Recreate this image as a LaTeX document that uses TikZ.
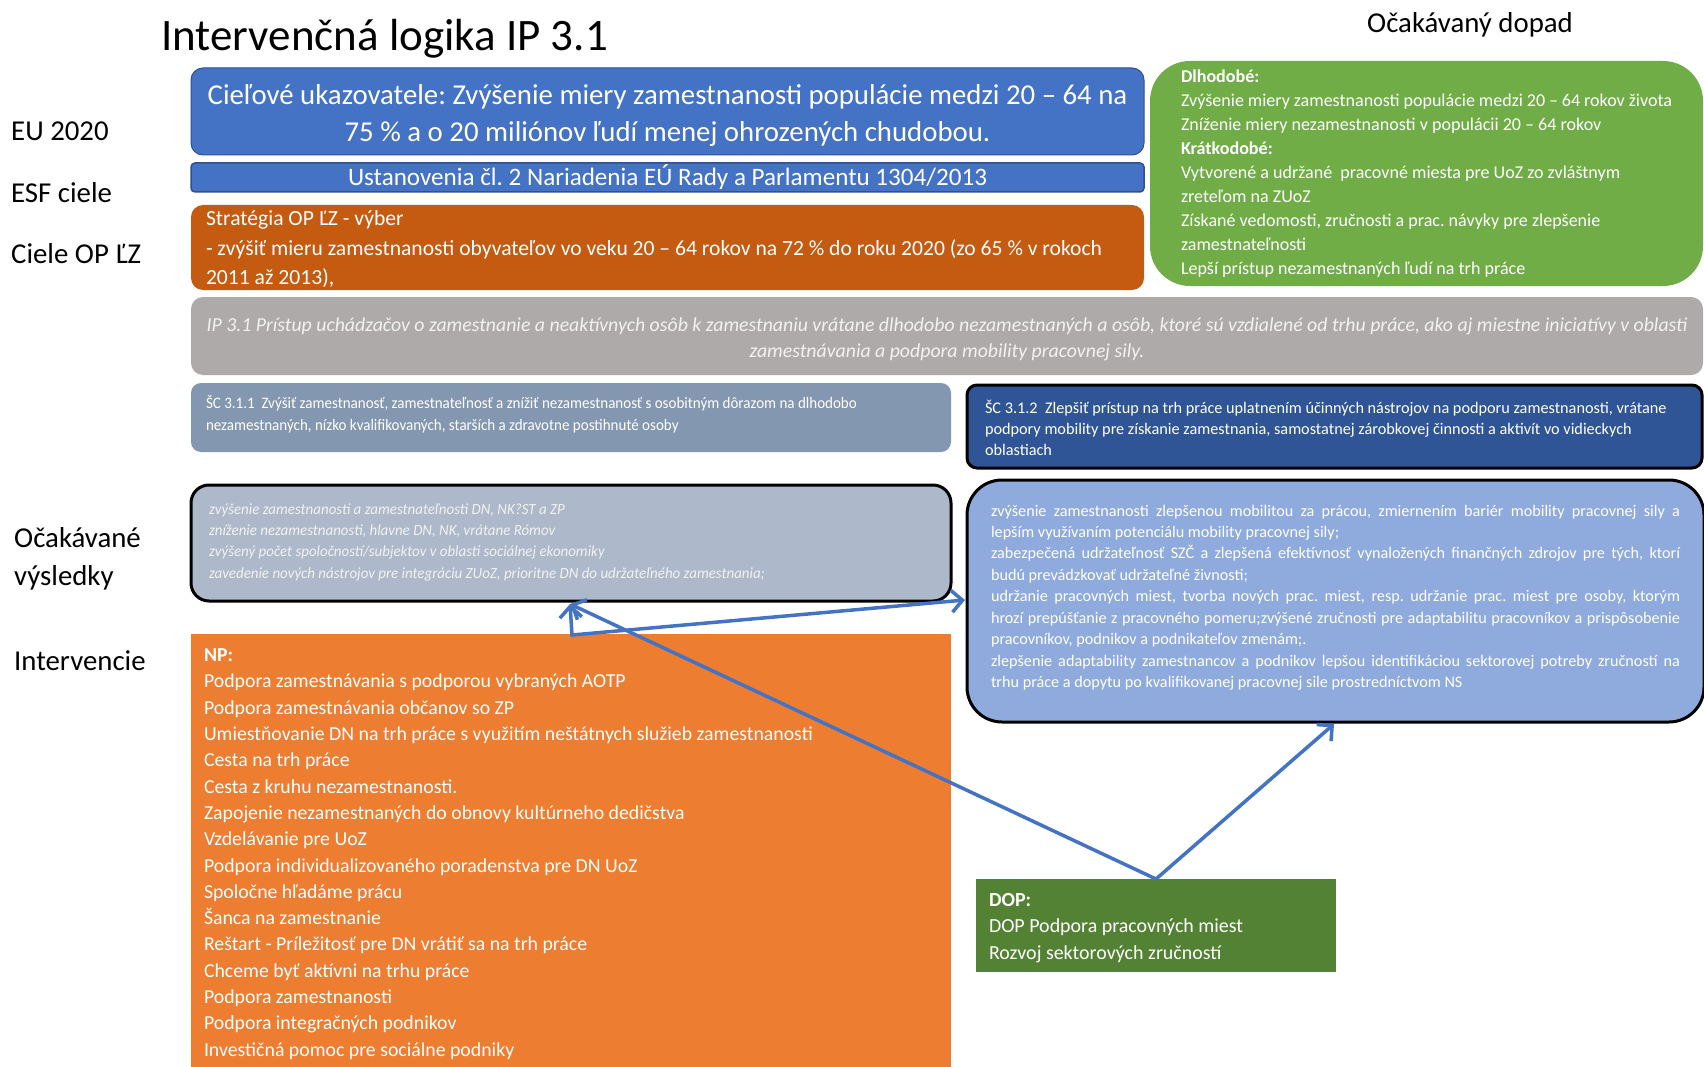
\documentclass[tikz,border=0pt]{standalone}
\usepackage{fontspec}
\setmainfont{Carlito}
\usetikzlibrary{arrows.meta}
\definecolor{cblue}{HTML}{4472C4}
\definecolor{cblueb}{HTML}{2F528F}
\definecolor{cstrat}{HTML}{C55A11}
\definecolor{cgreen}{HTML}{70AD47}
\definecolor{cgray}{HTML}{AEAAAA}
\definecolor{csca}{HTML}{8497B0}
\definecolor{cscb}{HTML}{2F5597}
\definecolor{cresa}{HTML}{ADB9CA}
\definecolor{cresb}{HTML}{8FAADC}
\definecolor{cnp}{HTML}{ED7D31}
\definecolor{cdop}{HTML}{548235}
\definecolor{ctxt}{HTML}{F2F2F2}
\definecolor{carrow}{HTML}{4472C4}
\tikzset{
  blk/.style={anchor=north west, inner ysep=0pt, outer sep=0pt, text=white},
  lab/.style={anchor=base west, inner sep=0pt, font=\fontsize{28.8}{34}\selectfont},
  tipb/.tip={Straight Barb[length=11pt,width=22pt,line width=3.5pt]},
  arr/.style={draw=carrow, line width=3.5pt, -tipb},
  arrboth/.style={draw=carrow, line width=3.5pt, tipb-tipb}
}
\frenchspacing
\begin{document}
\begin{tikzpicture}[x=1pt,y=-1pt]
\useasboundingbox (0,0) rectangle (1704,1067);
\fill[white] (0,0) rectangle (1704,1067);

% title and headers
\node[anchor=base west, inner sep=0pt, font=\fontsize{45}{50}\selectfont] (title) at (161,51) {Intervenčná logika IP 3.1};
\node[lab] (dopad) at (1367,33) {Očakávaný dopad};

% left labels
\node[lab] (l1) at (11,141) {EU 2020};
\node[lab] (l2) at (11,203) {ESF ciele};
\node[lab] (l3) at (11,264) {Ciele OP ĽZ};
\node[lab] (l4) at (14,547) {Očakávané};
\node[lab] (l4b) at (14,585) {výsledky};
\node[lab] (l5) at (14,670) {Intervencie};

% EU 2020
\node[blk, fill=cblue, draw=cblueb, line width=1pt, rounded corners=12pt, inner xsep=0pt] (eu) at (191,68)
  {\parbox[c][87pt][t]{953pt}{\centering\fontsize{28.8}{37}\selectfont\rule{0pt}{36.5pt}%
   Cieľové ukazovatele: Zvýšenie miery zamestnanosti populácie medzi 20 – 64 na\\
   75 \% a o 20 miliónov ľudí menej ohrozených chudobou.}};

% ESF
\node[blk, fill=cblue, draw=cblueb, line width=1.5pt, rounded corners=4pt, inner xsep=0pt] (esf) at (191,163)
  {\parbox[c][29pt][c]{953pt}{\centering\fontsize{25.1}{28}\selectfont
   Ustanovenia čl. 2 Nariadenia EÚ Rady a Parlamentu 1304/2013}};

% Strategy
\node[blk, fill=cstrat, rounded corners=12pt, inner xsep=15pt] (strat) at (191,205)
  {\parbox[c][85pt][t]{923pt}{\fontsize{21.6}{29.6}\selectfont\rule{0pt}{20.5pt}%
   Stratégia OP ĽZ - výber\\
   - zvýšiť mieru zamestnanosti obyvateľov vo veku 20 – 64 rokov na 72 \% do roku 2020 (zo 65 \% v rokoch\\
   2011 až 2013),}};

% Green impact
\node[blk, fill=cgreen, rounded corners=40pt, inner xsep=31pt] (impact) at (1150,61)
  {\parbox[c][225pt][t]{491pt}{\fontsize{18.05}{23.9}\selectfont\rule{0pt}{22pt}%
   \textbf{Dlhodobé:}\\
   Zvýšenie miery zamestnanosti populácie medzi 20 – 64 rokov života\\
   Zníženie miery nezamestnanosti v populácii 20 – 64 rokov\\
   \textbf{Krátkodobé:}\\
   Vytvorené a udržané\ \ pracovné miesta pre UoZ zo zvláštnym\\
   zreteľom na ZUoZ\\
   Získané vedomosti, zručnosti a prac. návyky pre zlepšenie\\
   zamestnateľnosti\\
   Lepší prístup nezamestnaných ľudí na trh práce}};

% IP 3.1
\node[blk, fill=cgray, rounded corners=12pt, inner xsep=0pt, text=ctxt] (ip) at (191,297)
  {\parbox[c][78pt][t]{1512pt}{\centering\fontsize{19.8}{26}\selectfont\itshape\rule{0pt}{34pt}%
   IP 3.1 Prístup uchádzačov o zamestnanie a neaktívnych osôb k zamestnaniu vrátane dlhodobo nezamestnaných a osôb, ktoré sú vzdialené od trhu práce, ako aj miestne iniciatívy v oblasti\\
   zamestnávania a podpora mobility pracovnej sily.}};

% SC 3.1.1
\node[blk, fill=csca, rounded corners=10pt, inner xsep=15pt] (sca) at (191,383)
  {\parbox[c][69pt][t]{730pt}{\fontsize{16}{21.7}\selectfont\rule{0pt}{25.3pt}%
   \scalebox{0.939}[1]{ŠC 3.1.1\ \ Zvýšiť zamestnanosť, zamestnateľnosť a znížiť nezamestnanosť s osobitným dôrazom na dlhodobo}\\
   \scalebox{0.939}[1]{nezamestnaných, nízko kvalifikovaných, starších a zdravotne postihnuté osoby}}};

% SC 3.1.2
\node[blk, fill=cscb, draw=black, line width=3pt, rounded corners=10pt, inner xsep=18pt] (scb) at (967,385)
  {\parbox[c][83pt][t]{699pt}{\fontsize{16.25}{21.2}\selectfont\rule{0pt}{28pt}%
   ŠC 3.1.2\ \ Zlepšiť prístup na trh práce uplatnením účinných nástrojov na podporu zamestnanosti, vrátane\\
   podpory mobility pre získanie zamestnania, samostatnej zárobkovej činnosti a aktivít vo vidieckych\\
   oblastiach}};

% results left
\node[blk, fill=cresa, draw=black, line width=3pt, rounded corners=18pt, inner xsep=18pt, text=ctxt] (resa) at (191,485)
  {\parbox[c][116pt][t]{724pt}{\fontsize{15.5}{21.4}\selectfont\itshape\rule{0pt}{29pt}%
   \scalebox{0.963}[1]{zvýšenie zamestnanosti a zamestnateľnosti DN, NK?ST a ZP}\\
   \scalebox{0.963}[1]{zníženie nezamestnanosti, hlavne DN, NK, vrátane Rómov}\\
   \scalebox{0.963}[1]{zvýšený počet spoločností/subjektov v oblasti sociálnej ekonomiky}\\
   \scalebox{0.963}[1]{zavedenie nových nástrojov pre integráciu ZUoZ, prioritne DN do udržateľného zamestnania;}}};

% results right
\node[blk, fill=cresb, draw=black, line width=3pt, rounded corners=35pt, inner xsep=24pt] (resb) at (967,480)
  {\parbox[c][242pt][t]{689pt}{\fontsize{16.2}{21.46}\selectfont\hyphenpenalty=10000
   \spaceskip=0.226em plus 0.6em minus 0.12em\rule{0pt}{36pt}%
   zvýšenie zamestnanosti zlepšenou mobilitou za prácou, zmiernením bariér mobility pracovnej sily a\linebreak
   lepším využívaním potenciálu mobility pracovnej sily;\par
   zabezpečená udržateľnosť SZČ a zlepšená efektívnosť vynaložených finančných zdrojov pre tých, ktorí\linebreak
   budú prevádzkovať udržateľné živnosti;\par
   udržanie pracovných miest, tvorba nových prac. miest, resp. udržanie prac. miest pre osoby, ktorým\linebreak
   hrozí prepúšťanie z pracovného pomeru;zvýšené zručnosti pre adaptabilitu pracovníkov a prispôsobenie\linebreak
   pracovníkov, podnikov a podnikateľov zmenám;.\par
   zlepšenie adaptability zamestnancov a podnikov lepšou identifikáciou sektorovej potreby zručností na\linebreak
   trhu práce a dopytu po kvalifikovanej pracovnej sile prostredníctvom NS}};

% NP
\node[blk, fill=cnp, inner xsep=13pt] (np) at (191,634)
  {\parbox[c][433pt][t]{734pt}{\fontsize{19.8}{26.3}\selectfont\rule{0pt}{27.6pt}%
   \textbf{NP:}\\
   Podpora zamestnávania s podporou vybraných AOTP\\
   Podpora zamestnávania občanov so ZP\\
   Umiestňovanie DN na trh práce s využitím neštátnych služieb zamestnanosti\\
   Cesta na trh práce\\
   Cesta z kruhu nezamestnanosti.\\
   Zapojenie nezamestnaných do obnovy kultúrneho dedičstva\\
   Vzdelávanie pre UoZ\\
   Podpora individualizovaného poradenstva pre DN UoZ\\
   Spoločne hľadáme prácu\\
   Šanca na zamestnanie\\
   Reštart - Príležitosť pre DN vrátiť sa na trh práce\\
   Chceme byť aktívni na trhu práce\\
   Podpora zamestnanosti\\
   Podpora integračných podnikov\\
   Investičná pomoc pre sociálne podniky}};

% DOP
\node[blk, fill=cdop, inner xsep=13pt] (dop) at (976,879)
  {\parbox[c][93pt][t]{334pt}{\fontsize{19.95}{26.6}\selectfont\rule{0pt}{27.2pt}%
   \textbf{DOP:}\\
   DOP Podpora pracovných miest\\
   Rozvoj sektorových zručností}};

% connectors
\coordinate (t1) at (570,604);
\coordinate (c1) at (572,635);
\coordinate (t2) at (965,600);
\coordinate (t3) at (1334,724);
\draw[arr] (dop.north) -- (t1);
\draw[arrboth] (t1) -- (c1) -- (t2);
\draw[arr] (dop.north) -- (t3);
\end{tikzpicture}
\end{document}
